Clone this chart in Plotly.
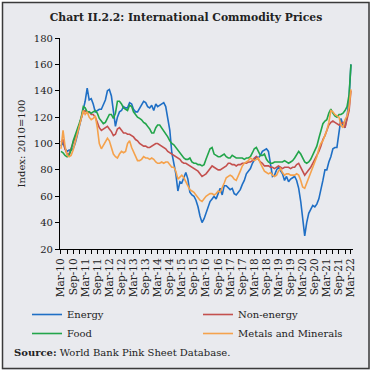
import pandas as pd
import plotly.graph_objects as go

# Monthly observations, Mar-2010 .. Mar-2022
months = pd.date_range("2010-03-01", "2022-03-01", freq="MS")

energy = [98, 101, 96, 94, 95, 95, 96, 100, 106, 112, 119, 126, 132, 142, 133, 134, 130, 124, 125, 126,
          126, 129, 133, 140, 141, 136, 124, 113, 120, 124, 125, 128, 127, 127, 131, 130,
          126, 124, 124, 127, 130, 132, 131, 128, 127, 129, 125, 130, 128, 129, 130, 131, 128, 120, 110, 93,
          84, 77, 64, 71, 70, 75, 78, 73, 63, 61, 60, 57, 52, 45, 40, 43,
          47, 52, 56, 58, 60, 58, 63, 66, 61, 68, 68, 66, 65, 66, 62, 61, 63, 65, 69, 72,
          77, 79, 81, 85, 87, 90, 89, 91, 94, 95, 96, 94, 85, 75, 76, 80,
          82, 79, 77, 72, 75, 71, 73, 74, 75, 72, 66, 56, 42, 30, 40, 47, 50, 53, 52, 54,
          58, 64, 72, 80, 80, 86, 90, 96, 97, 97, 110, 119, 114, 112, 120, 135, 160]

non_energy = [101, 103, 96, 92, 92, 96, 100, 104, 109, 114, 119, 124, 125, 123, 124, 122, 122, 120, 116, 112,
              110, 111, 112, 113, 111, 109, 106, 107, 111, 112, 110, 108, 108, 107, 107, 106,
              105, 103, 102, 100, 99, 98, 98, 97, 97, 98, 99, 100, 100, 99, 98, 97, 96, 94, 93, 92,
              91, 90, 89, 88, 86, 85, 85, 84, 83, 82, 81, 80, 79, 77, 75, 76,
              77, 79, 81, 83, 82, 81, 80, 80, 81, 82, 83, 85, 85, 84, 84, 83, 84, 84, 85, 85,
              85, 86, 86, 87, 89, 90, 88, 86, 85, 83, 83, 83, 82, 82, 81, 82,
              83, 82, 81, 82, 82, 82, 81, 82, 82, 84, 85, 82, 79, 76, 78, 80, 82, 85, 88, 90,
              94, 98, 103, 106, 110, 114, 116, 117, 116, 115, 114, 115, 116, 112, 118, 125, 140]

food = [94, 93, 91, 90, 91, 95, 102, 106, 110, 115, 120, 128, 127, 124, 124, 123, 124, 125, 123, 119,
        117, 115, 116, 119, 122, 122, 119, 123, 132, 132, 130, 127, 126, 125, 129, 128,
        124, 122, 120, 119, 118, 116, 115, 113, 111, 108, 108, 112, 114, 114, 112, 110, 108, 105, 102, 100,
        99, 97, 95, 93, 91, 89, 88, 88, 89, 86, 85, 85, 84, 84, 83, 84,
        88, 93, 96, 97, 92, 91, 90, 90, 91, 92, 90, 89, 89, 91, 90, 89, 89, 89, 89, 88,
        89, 89, 90, 93, 96, 97, 94, 91, 91, 92, 88, 86, 85, 85, 86, 86,
        86, 86, 86, 87, 86, 85, 86, 87, 89, 91, 94, 92, 89, 86, 85, 86, 88, 91, 94, 98,
        104, 110, 115, 117, 118, 123, 126, 123, 121, 120, 122, 122, 123, 125, 128, 137, 160]

metals = [96, 110, 98, 91, 90, 91, 95, 101, 107, 113, 120, 125, 122, 124, 120, 118, 119, 121, 112, 100,
          96, 99, 102, 104, 102, 96, 92, 90, 89, 92, 94, 93, 94, 100, 102, 97,
          94, 90, 87, 87, 88, 90, 89, 89, 88, 89, 88, 86, 85, 85, 86, 85, 86, 86, 84, 82,
          82, 79, 73, 75, 76, 74, 71, 68, 65, 64, 63, 61, 59, 57, 56, 58,
          60, 61, 62, 62, 61, 62, 64, 63, 66, 70, 74, 75, 76, 75, 73, 72, 75, 79, 83, 85,
          86, 87, 89, 88, 87, 88, 89, 85, 82, 79, 78, 77, 78, 76, 75, 76,
          79, 81, 78, 76, 77, 77, 76, 76, 76, 77, 76, 72, 67, 66, 70, 74, 78, 82, 86, 90,
          96, 100, 102, 106, 110, 116, 125, 124, 122, 121, 120, 114, 112, 118, 121, 128, 141]

series_names = ["Energy", "Non-energy", "Food", "Metals and Minerals"]
series_values = [energy, non_energy, food, metals]
series_colors = ["#1f6fc5", "#c4504e", "#22a54a", "#f5a24c"]

W, H = 372, 372
L, R, T, B = 60, 353, 38, 249
BG = "#e9eaee"
FONT = "DejaVu Serif"


def px_x(p):
    return (p - L) / (R - L)


def px_y(p):
    return (B - p) / (B - T)


fig = go.Figure()
for name, vals, col in zip(series_names, series_values, series_colors):
    fig.add_trace(go.Scatter(x=months, y=vals, name=name, mode="lines",
                             line=dict(color=col, width=1.6)))

fig.update_layout(
    width=W, height=H,
    margin=dict(l=L, r=W - R, t=T, b=H - B, pad=0, autoexpand=False),
    paper_bgcolor=BG,
    plot_bgcolor=BG,
    font=dict(family=FONT, size=10, color="#222222"),
    title=dict(text="<b>Chart II.2.2: International Commodity Prices</b>",
               x=0.5, xref="container", xanchor="center",
               y=1 - 17 / H, yref="container", yanchor="middle",
               font=dict(family=FONT, size=10.8, color="#222222")),
    showlegend=True,
    legend=dict(orientation="h", x=px_x(27), xanchor="left",
                y=px_y(300), yanchor="top",
                entrywidth=126, entrywidthmode="pixels",
                bgcolor="rgba(0,0,0,0)", font=dict(family=FONT, size=10),
                traceorder="normal", itemwidth=30),
    shapes=[dict(type="rect", xref="paper", yref="paper", layer="above",
                 x0=px_x(0), x1=px_x(372), y0=px_y(372), y1=px_y(0),
                 line=dict(color="white", width=4)),
            dict(type="rect", xref="paper", yref="paper", layer="above",
                 x0=px_x(2.5), x1=px_x(369), y0=px_y(368.5), y1=px_y(2.5),
                 line=dict(color="#3a3a3a", width=1.5))],
    annotations=[dict(text="<b>Source:</b> World Bank Pink Sheet Database.",
                      xref="paper", yref="paper", x=px_x(12), y=px_y(352),
                      xanchor="left", yanchor="middle", showarrow=False,
                      font=dict(family=FONT, size=10, color="#222222"))],
)

fig.update_xaxes(type="date", range=["2010-02-14", "2022-04-01"], automargin=False,
                 tick0="2010-03-01", dtick="M6", tickformat="%b-%y", tickangle=-90,
                 ticks="outside", ticklen=4, tickcolor="black", tickwidth=1,
                 minor=dict(dtick="M3", tick0="2010-03-01", ticks="outside", ticklen=4,
                            tickcolor="black", tickwidth=1, showgrid=False),
                 showline=True, linecolor="black", linewidth=1.2, showgrid=False,
                 zeroline=False, tickfont=dict(family=FONT, size=10.5, color="#222222"))
fig.update_yaxes(range=[20, 180], dtick=20, ticks="outside", ticklen=4, tickcolor="black",
                 automargin=False,
                 showline=True, linecolor="black", linewidth=1.2, showgrid=False,
                 zeroline=False, tickfont=dict(family=FONT, size=10, color="#222222"),
                 title=dict(text="Index: 2010=100", standoff=6,
                            font=dict(family=FONT, size=10, color="#222222")))

fig.write_html("out.html", config={"displayModeBar": False},
               post_script="document.body.style.margin='0';")
